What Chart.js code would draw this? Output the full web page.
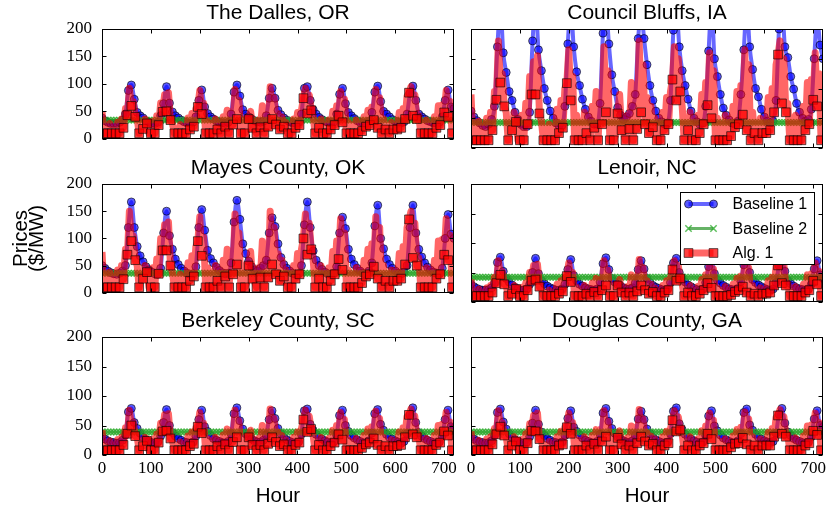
<!DOCTYPE html>
<html>
<head>
<meta charset="utf-8">
<script src="https://cdn.jsdelivr.net/npm/chart.js@4.4.1/dist/chart.umd.min.js"></script>
<style>
  html, body { margin: 0; padding: 0; background: #fff; }
  #wrap { position: relative; width: 831px; height: 512px; overflow: hidden; }
  #wrap canvas { position: absolute; }
</style>
</head>
<body>
<div id="wrap"></div>
<script>
const SANS = "'Liberation Sans', Arial, sans-serif";
const SERIF = "'Liberation Serif', 'Times New Roman', serif";

// axes
const xTicks = [0, 100, 200, 300, 400, 500, 600, 700];
const yTicks = [0, 50, 100, 150, 200];
const hoursB1 = Array.from({ length: 121 }, (_, i) => i * 6);  // Baseline 1 / 2 samples
const hoursAlg = Array.from({ length: 181 }, (_, i) => i * 4); // Alg. 1 samples

const titles = ['The Dalles, OR', 'Council Bluffs, IA', 'Mayes County, OK',
  'Lenoir, NC', 'Berkeley County, SC', 'Douglas County, GA'];

// Baseline 2 is a flat price per site
const baseline2 = [34, 43, 36, 42, 39, 39];

// Baseline 1, one row = 72 h (6 h steps)
const dallesB1 = [
  38, 33, 30, 28, 28, 28, 30, 34, 45, 88, 98, 72,
  48, 42, 38, 33, 30, 28, 28, 30, 42, 64, 95, 65,
  49, 42, 38, 34, 31, 29, 28, 30, 40, 70, 89, 58,
  46, 40, 36, 33, 30, 29, 28, 30, 45, 85, 98, 78,
  53, 45, 40, 36, 33, 31, 30, 32, 42, 74, 92, 74,
  52, 44, 38, 34, 31, 29, 28, 30, 45, 92, 95, 70,
  53, 45, 39, 35, 32, 30, 29, 31, 45, 81, 92, 64,
  48, 42, 37, 33, 30, 29, 28, 32, 48, 85, 96, 68,
  50, 45, 40, 35, 32, 30, 29, 31, 45, 83, 96, 70,
  45, 40, 36, 33, 31, 29, 28, 30, 40, 70, 89, 58,
  55];
const councilB1 = [
  62, 52, 46, 42, 38, 36, 40, 48, 70, 170, 240, 160,
  127, 95, 80, 60, 48, 40, 36, 36, 60, 180, 240, 165,
  130, 100, 80, 62, 50, 42, 38, 38, 70, 175, 240, 170,
  128, 105, 82, 65, 52, 45, 40, 40, 75, 193, 240, 175,
  123, 95, 68, 55, 48, 52, 58, 70, 90, 184, 230, 184,
  140, 105, 80, 62, 50, 44, 40, 42, 80, 198, 240, 170,
  130, 105, 82, 62, 50, 44, 40, 42, 70, 163, 240, 150,
  120, 90, 67, 55, 47, 42, 40, 45, 90, 165, 240, 170,
  132, 100, 86, 65, 52, 45, 42, 45, 80, 200, 240, 170,
  152, 120, 99, 75, 60, 50, 45, 48, 65, 150, 220, 173,
  150];
const mayesB1 = [
  50, 45, 40, 37, 35, 34, 36, 40, 50, 120, 167, 120,
  85, 68, 57, 48, 42, 38, 35, 34, 45, 110, 150, 105,
  80, 62, 52, 45, 40, 36, 34, 35, 48, 120, 153, 115,
  78, 63, 55, 47, 41, 37, 35, 36, 55, 130, 170, 135,
  90, 72, 58, 48, 42, 40, 45, 50, 60, 110, 138, 122,
  90, 65, 52, 45, 40, 36, 34, 35, 50, 125, 167, 120,
  77, 60, 50, 43, 38, 35, 34, 36, 48, 110, 139, 118,
  80, 62, 52, 45, 40, 36, 34, 40, 55, 123, 161, 100,
  81, 62, 52, 45, 40, 36, 35, 38, 50, 120, 161, 110,
  80, 66, 55, 47, 42, 38, 36, 35, 45, 100, 144, 108,
  100];
const lenoirB1 = [
  30, 26, 23, 21, 20, 20, 21, 24, 32, 67, 76, 52,
  40, 34, 29, 25, 22, 20, 20, 22, 30, 50, 74, 48,
  36, 31, 27, 24, 22, 20, 20, 22, 30, 55, 72, 45,
  36, 30, 27, 24, 22, 21, 20, 22, 34, 65, 75, 55,
  40, 34, 30, 27, 24, 22, 22, 24, 32, 55, 70, 56,
  40, 33, 28, 25, 23, 21, 20, 22, 33, 66, 74, 50,
  40, 34, 29, 26, 23, 21, 20, 22, 33, 60, 72, 48,
  37, 32, 28, 25, 22, 21, 20, 23, 35, 63, 72, 50,
  38, 33, 29, 26, 23, 21, 20, 22, 33, 62, 74, 52,
  36, 31, 27, 24, 22, 21, 20, 22, 30, 56, 70, 46,
  40];
const berkeleyB1 = [
  32, 27, 24, 22, 21, 20, 21, 25, 34, 73, 79, 55,
  45, 37, 30, 26, 23, 21, 20, 22, 32, 55, 77, 50,
  38, 32, 28, 25, 22, 21, 20, 22, 32, 60, 76, 48,
  40, 33, 28, 25, 23, 21, 20, 23, 36, 70, 80, 58,
  44, 36, 31, 27, 24, 22, 22, 25, 34, 60, 75, 62,
  45, 36, 30, 26, 23, 21, 20, 22, 35, 75, 78, 52,
  42, 35, 30, 27, 24, 22, 20, 22, 34, 67, 76, 50,
  40, 33, 29, 26, 23, 21, 20, 24, 37, 70, 77, 52,
  42, 35, 30, 27, 24, 22, 20, 23, 36, 68, 80, 55,
  38, 32, 28, 25, 23, 21, 20, 22, 32, 60, 76, 48,
  45];
const douglasB1 = [
  31, 27, 24, 22, 21, 20, 21, 24, 33, 72, 78, 56,
  44, 36, 30, 26, 23, 21, 20, 22, 31, 54, 76, 52,
  39, 33, 28, 25, 22, 21, 20, 22, 33, 62, 75, 47,
  40, 34, 29, 25, 23, 21, 20, 23, 35, 71, 79, 57,
  45, 37, 31, 27, 24, 22, 21, 24, 33, 61, 74, 60,
  44, 36, 30, 26, 23, 21, 20, 22, 36, 74, 80, 53,
  43, 35, 30, 27, 24, 22, 20, 22, 33, 66, 75, 49,
  41, 34, 29, 26, 23, 21, 20, 24, 36, 72, 78, 51,
  42, 35, 30, 27, 24, 22, 21, 23, 37, 69, 79, 54,
  39, 33, 28, 25, 23, 21, 20, 22, 31, 61, 75, 50,
  47];

// Alg. 1, one row = 72 h (4 h steps)
const dallesAlg = [
  50, 10, 14, 10, 28, 10, 12, 10, 30, 10, 36, 20, 55, 43, 92, 60, 68, 40,
  36, 10, 28, 18, 36, 28, 10, 10, 32, 10, 42, 25, 65, 49, 80, 50, 84, 34,
  28, 10, 10, 10, 26, 10, 14, 10, 38, 17, 46, 22, 55, 58, 88, 45, 65, 10,
  32, 10, 28, 10, 36, 17, 10, 10, 40, 22, 52, 10, 50, 26, 90, 36, 70, 10,
  36, 10, 15, 36, 50, 20, 16, 10, 34, 21, 60, 10, 56, 22, 95, 36, 75, 26,
  46, 17, 40, 22, 30, 10, 12, 10, 36, 20, 48, 25, 52, 74, 92, 46, 80, 52,
  40, 10, 10, 20, 36, 10, 10, 10, 34, 17, 50, 25, 60, 42, 86, 30, 72, 10,
  30, 10, 25, 10, 34, 10, 14, 14, 40, 22, 52, 25, 58, 34, 90, 20, 75, 10,
  36, 17, 24, 10, 30, 17, 20, 17, 48, 20, 55, 36, 78, 84, 95, 42, 80, 36,
  42, 10, 30, 10, 34, 10, 10, 10, 40, 20, 60, 25, 62, 48, 88, 40, 68, 10,
  28];
const councilAlg = [
  90, 13, 20, 13, 45, 13, 18, 13, 50, 13, 60, 30, 95, 81, 180, 110, 125, 70,
  60, 13, 45, 30, 60, 44, 13, 13, 55, 13, 75, 40, 120, 90, 145, 90, 155, 58,
  45, 13, 13, 13, 40, 13, 20, 13, 65, 25, 80, 34, 100, 109, 165, 80, 120, 13,
  55, 13, 45, 13, 60, 25, 13, 13, 70, 34, 95, 13, 90, 40, 170, 60, 130, 13,
  60, 13, 22, 58, 90, 30, 25, 13, 55, 32, 110, 13, 100, 32, 180, 60, 140, 40,
  85, 25, 70, 35, 50, 13, 18, 13, 60, 30, 85, 40, 95, 115, 170, 80, 150, 95,
  70, 13, 13, 30, 60, 13, 13, 13, 55, 25, 90, 40, 110, 72, 160, 50, 130, 13,
  50, 13, 40, 13, 55, 13, 20, 20, 70, 35, 95, 40, 105, 56, 165, 30, 140, 13,
  60, 25, 40, 13, 50, 25, 30, 25, 85, 30, 100, 60, 140, 157, 180, 75, 150, 60,
  75, 13, 50, 13, 55, 13, 13, 13, 70, 30, 110, 40, 115, 81, 160, 70, 125, 13,
  40];
const mayesAlg = [
  75, 10, 16, 10, 38, 10, 15, 10, 42, 10, 50, 25, 80, 70, 150, 95, 105, 60,
  50, 10, 38, 26, 50, 38, 10, 10, 46, 10, 62, 35, 100, 78, 125, 78, 130, 50,
  38, 10, 10, 10, 34, 10, 17, 10, 55, 22, 68, 30, 85, 95, 140, 68, 102, 10,
  46, 10, 38, 10, 50, 22, 10, 10, 60, 30, 80, 10, 76, 34, 145, 52, 110, 10,
  50, 10, 18, 50, 76, 26, 20, 10, 46, 28, 95, 10, 85, 28, 150, 52, 120, 34,
  72, 22, 60, 30, 42, 10, 15, 10, 50, 26, 72, 34, 80, 100, 145, 70, 128, 80,
  60, 10, 10, 26, 50, 10, 10, 10, 46, 22, 76, 34, 95, 62, 136, 42, 110, 10,
  42, 10, 34, 10, 46, 10, 16, 18, 60, 30, 80, 34, 90, 48, 140, 26, 120, 10,
  50, 22, 34, 10, 42, 22, 26, 22, 72, 26, 85, 52, 120, 135, 150, 64, 128, 50,
  64, 10, 42, 10, 46, 10, 10, 10, 60, 26, 95, 34, 98, 70, 136, 60, 106, 10,
  34];
const lenoirAlg = [
  38, 10, 12, 10, 22, 10, 12, 10, 24, 10, 28, 16, 42, 32, 70, 46, 52, 30,
  28, 10, 22, 14, 28, 22, 10, 10, 25, 10, 32, 20, 50, 36, 62, 38, 64, 26,
  22, 10, 10, 10, 20, 10, 13, 10, 30, 14, 36, 18, 42, 44, 66, 34, 50, 10,
  25, 10, 22, 10, 28, 14, 10, 10, 32, 17, 40, 10, 38, 20, 70, 28, 54, 10,
  28, 10, 14, 28, 38, 16, 14, 10, 26, 16, 46, 10, 42, 18, 72, 28, 58, 20,
  36, 14, 30, 17, 24, 10, 12, 10, 28, 16, 36, 20, 40, 55, 70, 36, 62, 40,
  30, 10, 10, 16, 28, 10, 10, 10, 26, 14, 38, 20, 46, 32, 66, 24, 56, 10,
  24, 10, 20, 10, 26, 10, 13, 12, 30, 17, 40, 20, 44, 26, 68, 16, 58, 10,
  28, 14, 20, 10, 24, 14, 17, 14, 36, 16, 42, 28, 60, 62, 72, 32, 62, 28,
  32, 10, 24, 10, 26, 10, 10, 10, 30, 16, 46, 20, 48, 36, 66, 30, 52, 10,
  22];
const berkeleyAlg = [
  42, 8, 11, 8, 24, 8, 11, 8, 26, 8, 30, 17, 46, 36, 76, 50, 56, 32,
  30, 8, 24, 15, 30, 24, 8, 8, 27, 8, 35, 21, 54, 40, 68, 41, 70, 28,
  24, 8, 8, 8, 22, 8, 12, 8, 32, 15, 39, 19, 46, 48, 72, 37, 54, 8,
  27, 8, 24, 8, 30, 15, 8, 8, 34, 18, 44, 8, 42, 22, 76, 30, 58, 8,
  30, 8, 13, 30, 42, 17, 14, 8, 28, 17, 50, 8, 46, 19, 78, 30, 62, 22,
  39, 15, 33, 18, 26, 8, 11, 8, 30, 17, 39, 21, 44, 60, 76, 39, 66, 44,
  33, 8, 8, 17, 30, 8, 8, 8, 28, 15, 42, 21, 50, 35, 72, 26, 60, 8,
  26, 8, 22, 8, 28, 8, 12, 12, 33, 18, 44, 21, 48, 28, 74, 17, 62, 8,
  30, 15, 20, 8, 26, 15, 17, 15, 39, 17, 46, 30, 65, 68, 78, 35, 66, 30,
  35, 8, 26, 8, 28, 8, 8, 8, 33, 17, 50, 21, 52, 40, 72, 33, 56, 8,
  24];
const douglasAlg = [
  40, 8, 11, 8, 25, 8, 11, 8, 27, 8, 31, 18, 45, 35, 75, 48, 55, 33,
  31, 8, 23, 16, 31, 23, 8, 8, 26, 8, 36, 20, 53, 41, 67, 40, 71, 27,
  25, 8, 8, 8, 23, 8, 12, 8, 31, 16, 40, 18, 47, 47, 71, 36, 55, 8,
  26, 8, 25, 8, 31, 16, 8, 8, 33, 19, 43, 8, 43, 23, 75, 31, 57, 8,
  31, 8, 13, 29, 41, 18, 13, 8, 29, 16, 49, 8, 47, 20, 77, 31, 61, 23,
  38, 16, 32, 19, 27, 8, 11, 8, 31, 16, 40, 20, 45, 59, 75, 40, 65, 43,
  34, 8, 8, 16, 31, 8, 8, 8, 27, 16, 41, 20, 49, 36, 71, 27, 59, 8,
  27, 8, 23, 8, 27, 8, 12, 13, 32, 19, 43, 20, 47, 29, 73, 18, 61, 8,
  31, 16, 20, 8, 27, 16, 18, 16, 38, 16, 45, 31, 64, 67, 77, 36, 65, 31,
  34, 8, 27, 8, 29, 8, 8, 8, 32, 16, 49, 20, 51, 41, 71, 34, 55, 8,
  25];

const b1Data = [dallesB1, councilB1, mayesB1, lenoirB1, berkeleyB1, douglasB1];
const algData = [dallesAlg, councilAlg, mayesAlg, lenoirAlg, berkeleyAlg, douglasAlg];

// series looks
const styles = [
  { label: 'Baseline 1', line: 'rgba(0,0,255,0.6)', width: 4, marker: 'circle', fill: 'rgba(0,0,255,0.65)', edge: 'rgba(0,0,0,0.6)', r: 4 },
  { label: 'Baseline 2', line: 'rgba(0,128,0,0.6)', width: 3, marker: 'crossRot', fill: 'rgba(0,128,0,0.6)', edge: 'rgba(40,170,40,0.75)', r: 4.5 },
  { label: 'Alg. 1', line: 'rgba(255,0,0,0.6)', width: 7, marker: 'rect', fill: 'rgba(255,0,0,0.75)', edge: 'rgba(0,0,0,0.6)', r: 6.2 }
];

// frame + inward ticks like matplotlib
const frame = {
  id: 'frame',
  afterDatasetsDraw(chart) {
    const { ctx, chartArea: a, scales: { x, y } } = chart;
    const L = Math.round(a.left) + 0.5, R = Math.round(a.right) - 0.5;
    const T = Math.round(a.top) + 0.5, B = Math.round(a.bottom) - 0.5;
    ctx.save();
    ctx.strokeStyle = '#000';
    ctx.lineWidth = 1;
    ctx.beginPath();
    xTicks.forEach(v => {
      const px = Math.round(x.getPixelForValue(v)) + 0.5;
      ctx.moveTo(px, B); ctx.lineTo(px, B - 4);
      ctx.moveTo(px, T); ctx.lineTo(px, T + 4);
    });
    yTicks.forEach(v => {
      const py = Math.round(y.getPixelForValue(v)) + 0.5;
      ctx.moveTo(L, py); ctx.lineTo(L + 4, py);
      ctx.moveTo(R, py); ctx.lineTo(R - 4, py);
    });
    ctx.stroke();
    ctx.strokeRect(L, T, R - L, B - T);
    ctx.restore();
  }
};

function marker(ctx, s, x, y) {
  ctx.fillStyle = s.fill;
  ctx.strokeStyle = s.edge;
  ctx.lineWidth = s.marker === 'crossRot' ? 1.5 : 1;
  ctx.beginPath();
  if (s.marker === 'circle') {
    ctx.arc(x, y, s.r, 0, Math.PI * 2);
    ctx.fill(); ctx.stroke();
  } else if (s.marker === 'rect') {
    const h = s.r * Math.SQRT1_2;
    ctx.rect(x - h, y - h, 2 * h, 2 * h);
    ctx.fill(); ctx.stroke();
  } else {
    const h = s.r * Math.SQRT1_2;
    ctx.moveTo(x - h, y - h); ctx.lineTo(x + h, y + h);
    ctx.moveTo(x + h, y - h); ctx.lineTo(x - h, y + h);
    ctx.stroke();
  }
}

const legendBox = {
  id: 'legendBox',
  afterDraw(chart, args, opts) {
    if (!opts.show) return;
    const { ctx, chartArea: a } = chart;
    const w = 134, h = 72;
    const x0 = Math.round(a.right - 9 - w) + 0.5, y0 = Math.round(a.top + 8) + 0.5;
    ctx.save();
    ctx.fillStyle = '#fff';
    ctx.fillRect(x0, y0, w, h);
    ctx.strokeStyle = '#000';
    ctx.lineWidth = 1;
    ctx.strokeRect(x0, y0, w, h);
    styles.forEach((s, i) => {
      const yy = y0 + 11.5 + i * 24.5;
      ctx.strokeStyle = s.line;
      ctx.lineWidth = s.width;
      ctx.beginPath();
      ctx.moveTo(x0 + 8, yy); ctx.lineTo(x0 + 33, yy);
      ctx.stroke();
      marker(ctx, s, x0 + 8, yy);
      marker(ctx, s, x0 + 33, yy);
      ctx.fillStyle = '#000';
      ctx.font = '16px ' + SANS;
      ctx.textBaseline = 'middle';
      ctx.fillText(s.label, x0 + 52, yy + 1);
    });
    ctx.restore();
  }
};

const wrap = document.getElementById('wrap');
const rowTop = [1, 156, 309];
const rowHeight = [158, 157, 203];

titles.forEach((title, i) => {
  const col = i % 2, row = Math.floor(i / 2);
  const isLeft = col === 0, isBottom = row === 2;
  const canvas = document.createElement('canvas');
  const w = isLeft ? 460 : 371;
  canvas.width = w;
  canvas.height = rowHeight[row];
  canvas.style.left = (isLeft ? 0 : 460) + 'px';
  canvas.style.top = rowTop[row] + 'px';
  canvas.style.width = w + 'px';
  canvas.style.height = rowHeight[row] + 'px';
  wrap.appendChild(canvas);

  const b1 = b1Data[i], alg = algData[i];
  const datasets = [
    {
      label: styles[0].label, order: 2,
      data: hoursB1.map((h, k) => ({ x: h, y: b1[k] })),
      borderColor: styles[0].line, borderWidth: styles[0].width,
      cubicInterpolationMode: 'monotone',
      pointStyle: 'circle', pointRadius: styles[0].r,
      pointBackgroundColor: styles[0].fill, pointBorderColor: styles[0].edge, pointBorderWidth: 1
    },
    {
      label: styles[1].label, order: 1,
      data: hoursB1.map(h => ({ x: h, y: baseline2[i] })),
      borderColor: styles[1].line, borderWidth: styles[1].width,
      pointStyle: 'crossRot', pointRadius: styles[1].r,
      pointBackgroundColor: styles[1].fill, pointBorderColor: styles[1].edge, pointBorderWidth: 1.5
    },
    {
      label: styles[2].label, order: 0,
      data: hoursAlg.map((h, k) => ({ x: h, y: alg[k] })),
      borderColor: styles[2].line, borderWidth: styles[2].width,
      borderJoinStyle: 'round',
      pointStyle: 'rect',
      pointRadius: ctx => (ctx.dataIndex % 2 === 1 ? styles[2].r : 0),
      pointBackgroundColor: styles[2].fill, pointBorderColor: styles[2].edge, pointBorderWidth: 1
    }
  ];
  datasets.forEach(d => { d.clip = 0; d.fill = false; d.pointHoverRadius = 0; });

  new Chart(canvas, {
    type: 'line',
    data: { datasets },
    plugins: [frame, legendBox],
    options: {
      responsive: false,
      animation: false,
      devicePixelRatio: 1,
      events: [],
      layout: { padding: { left: isLeft ? 0 : 11, right: isLeft ? 5 : 8, top: 0, bottom: isBottom ? 0 : 11 } },
      plugins: {
        legend: { display: false },
        tooltip: { enabled: false },
        legendBox: { show: i === 3 },
        title: {
          display: true, text: title, fullSize: false, color: '#000',
          font: { family: SANS, size: 21, weight: 'normal' },
          padding: { top: 0, bottom: 2.8 }
        }
      },
      scales: {
        x: {
          type: 'linear', min: 0, max: 720, display: isBottom,
          grid: { display: false, drawTicks: false },
          border: { display: false },
          afterBuildTicks: s => { s.ticks = xTicks.map(v => ({ value: v })); },
          afterFit: s => { s.height = isBottom ? 57 : 0; },
          ticks: { color: '#000', font: { family: SERIF, size: 17 }, padding: 3, maxRotation: 0, autoSkip: false },
          title: {
            display: isBottom, text: 'Hour', color: '#000',
            font: { family: SANS, size: 20.5 }, padding: { top: 0, bottom: 3.7 }
          }
        },
        y: {
          type: 'linear', min: 0, max: 200, display: isLeft,
          grid: { display: false, drawTicks: false },
          border: { display: false },
          afterBuildTicks: s => { s.ticks = yTicks.map(v => ({ value: v })); },
          afterFit: s => { s.width = isLeft ? 102 : 0; },
          ticks: { color: '#000', font: { family: SERIF, size: 17 }, padding: 10, autoSkip: false },
          title: {
            display: isLeft && row === 1, text: ['Prices', '($/MW)'], color: '#000',
            font: { family: SANS, size: 20.5, lineHeight: 0.78 }, padding: { top: 13, bottom: 0 }
          }
        }
      }
    }
  });
});
</script>
</body>
</html>
